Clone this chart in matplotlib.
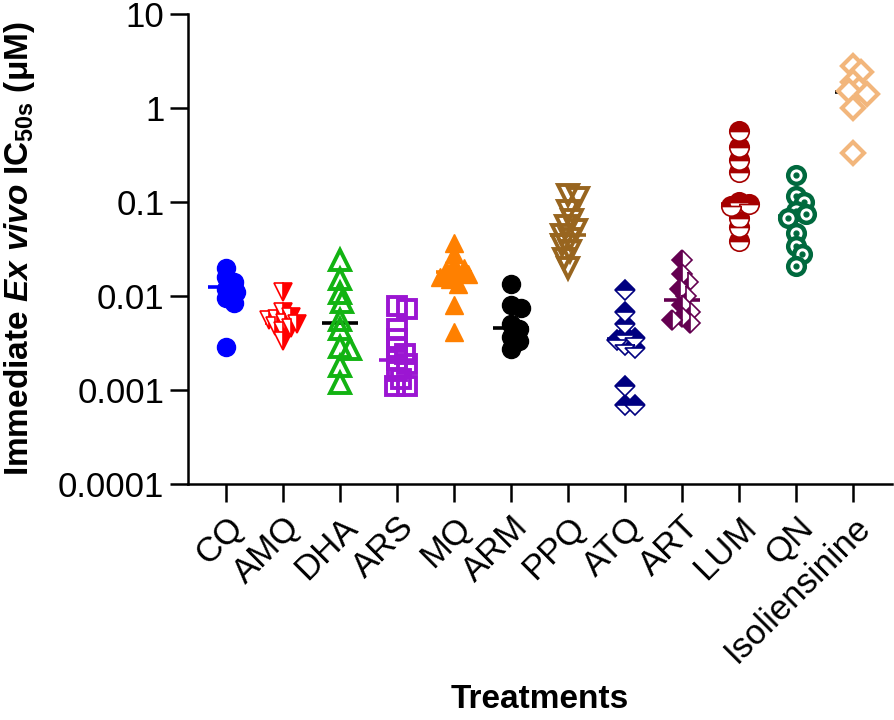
import numpy as np
import matplotlib.pyplot as plt

plt.rcParams['font.family'] = ['Liberation Sans', 'DejaVu Sans']
plt.rcParams['mathtext.fontset'] = 'custom'
plt.rcParams['mathtext.rm'] = 'Liberation Sans:bold'
plt.rcParams['mathtext.it'] = 'Liberation Sans:italic:bold'
plt.rcParams['mathtext.bf'] = 'Liberation Sans:bold'

treatments = ['CQ', 'AMQ', 'DHA', 'ARS', 'MQ', 'ARM', 'PPQ', 'ATQ', 'ART', 'LUM', 'QN', 'Isoliensinine']

cq = [0.020, 0.016, 0.014, 0.012, 0.011, 0.0095, 0.0085, 0.0029]
amq = [0.011, 0.0068, 0.006, 0.0057, 0.0055, 0.0052, 0.005, 0.0048, 0.0046, 0.0042, 0.0033]
dha = [0.024, 0.015, 0.0108, 0.0087, 0.0056, 0.0044, 0.0029, 0.0027, 0.0018, 0.0012]
ars = [0.0078, 0.0072, 0.0045, 0.0035, 0.0028, 0.0024, 0.0021, 0.0019, 0.0016, 0.0013, 0.0011, 0.0011]
mq = [0.037, 0.028, 0.022, 0.020, 0.019, 0.018, 0.017, 0.016, 0.015, 0.0135, 0.008, 0.0041]
arm = [0.0135, 0.008, 0.0075, 0.005, 0.0045, 0.0037, 0.0033, 0.0027]
ppq = [0.12, 0.11, 0.08, 0.065, 0.055, 0.05, 0.045, 0.04, 0.035, 0.03, 0.025, 0.02]
atq = [0.0115, 0.0068, 0.005, 0.0038, 0.0036, 0.0034, 0.003, 0.0028, 0.0011, 0.0007, 0.0007]
art = [0.024, 0.017, 0.014, 0.012, 0.010, 0.008, 0.0068, 0.006, 0.0055, 0.0052]
lum = [0.57, 0.38, 0.28, 0.21, 0.10, 0.095, 0.09, 0.068, 0.054, 0.038]
qn = [0.195, 0.115, 0.10, 0.08, 0.075, 0.068, 0.047, 0.034, 0.028, 0.021]
iso = [2.8, 2.4, 1.9, 1.6, 1.5, 1.4, 1.0, 0.33]

group_values = [cq, amq, dha, ars, mq, arm, ppq, atq, art, lum, qn, iso]
center_lines = [0.0126, 0.0052, 0.0052, 0.0021, 0.018, 0.0046, 0.045, 0.0035, 0.0091, 0.096, 0.0705, 1.47]

# marker style per group: (marker, colour, size, fill, edge width, line colour)
styles = [
    ('o', '#0000FF', 13, 'full', 1.0, '#0000FF'),
    ('v', '#FF0000', 13, 'right', 1.2, '#FF0000'),
    ('^', '#12B312', 14, 'none', 2.8, 'black'),
    ('s', '#9B16D2', 13, 'none', 2.8, '#9B16D2'),
    ('^', '#FF8000', 13, 'full', 1.0, '#FF8000'),
    ('o', '#000000', 13, 'full', 1.0, 'black'),
    ('v', '#98651F', 14, 'none', 2.8, '#98651F'),
    ('D', '#000080', 10, 'top', 1.2, '#000080'),
    ('D', '#640050', 10, 'left', 1.2, '#640050'),
    ('o', '#A50000', 14, 'top', 1.2, '#A50000'),
    ('o', '#00693E', 12, 'white', 3.2, '#00693E'),
    ('D', '#F2B67C', 11, 'white', 3.0, 'black'),
]

fig = plt.figure(figsize=(8.94, 7.2), dpi=100)
ax = fig.add_axes([0.2103, 0.3278, 0.7875, 0.6528])
ax.set_yscale('log')
ax.set_ylim(1e-4, 10)
ax.set_xlim(-0.67, 11.68)

px_per_unit = 57.0
px_per_decade = 94.0


def swarm_offsets(vals, min_d=9.0, max_off=14.0):
    # simple column scatter: spread points sideways where they overlap
    ys = np.log10(vals) * px_per_decade
    placed = []
    offs = []
    cands = [0.0]
    for k in range(1, int(max_off / 2) + 1):
        cands += [2.0 * k, -2.0 * k]
    for y in ys:
        best = None
        best_score = -1
        for c in cands:
            if placed:
                d = min(np.hypot(c - px, y - py) for px, py in placed)
            else:
                d = 1e9
            if d >= min_d:
                best = c
                break
            if d > best_score:
                best_score = d
                best = c
        placed.append((best, y))
        offs.append(best / px_per_unit)
    return np.array(offs)


for i, vals in enumerate(group_values):
    marker, col, ms, fill, mew, lcol = styles[i]
    xs = i + swarm_offsets(vals)
    ax.plot([i - 0.32, i + 0.32], [center_lines[i], center_lines[i]], color=lcol,
            lw=2.6, zorder=2, solid_capstyle='butt')
    if fill == 'full':
        ax.plot(xs, vals, linestyle='none', marker=marker, ms=ms, color=col,
                mec=col, mew=mew, zorder=3)
    elif fill == 'none':
        ax.plot(xs, vals, linestyle='none', marker=marker, ms=ms, mfc='none',
                mec=col, mew=mew, zorder=3)
    elif fill == 'white':
        ax.plot(xs, vals, linestyle='none', marker=marker, ms=ms, mfc='white',
                mec=col, mew=mew, zorder=3)
        if marker == 'o':
            ax.plot(xs, vals, linestyle='none', marker='o', ms=3.5, color=col, zorder=4)
    else:
        ax.plot(xs, vals, linestyle='none', marker=marker, ms=ms, color=col,
                fillstyle=fill, mfc=col, mfcalt='white', mec=col, mew=mew, zorder=3)

for s in ['top', 'right']:
    ax.spines[s].set_visible(False)
for s in ['left', 'bottom']:
    ax.spines[s].set_linewidth(1.8)

ax.set_yticks([1e-4, 1e-3, 1e-2, 1e-1, 1, 10])
ax.set_yticklabels(['0.0001', '0.001', '0.01', '0.1', '1', '10'])
ax.minorticks_off()
ax.set_xticks(range(len(treatments)))
ax.set_xticklabels(treatments, rotation=45, ha='right', rotation_mode='anchor')
ax.tick_params(axis='both', length=13, width=1.8, labelsize=25, pad=4)
ax.tick_params(axis='x', pad=6)

ax.set_ylabel(r'Immediate $Ex\ vivo$ IC$_{\mathrm{50s}}$ (μM)', fontsize=24, fontweight='bold')
ax.yaxis.set_label_coords(-0.215, 0.5)
ax.set_xlabel('Treatments', fontsize=24, fontweight='bold')
ax.xaxis.set_label_coords(0.5, -0.425)

fig.savefig('out.png', dpi=100)
